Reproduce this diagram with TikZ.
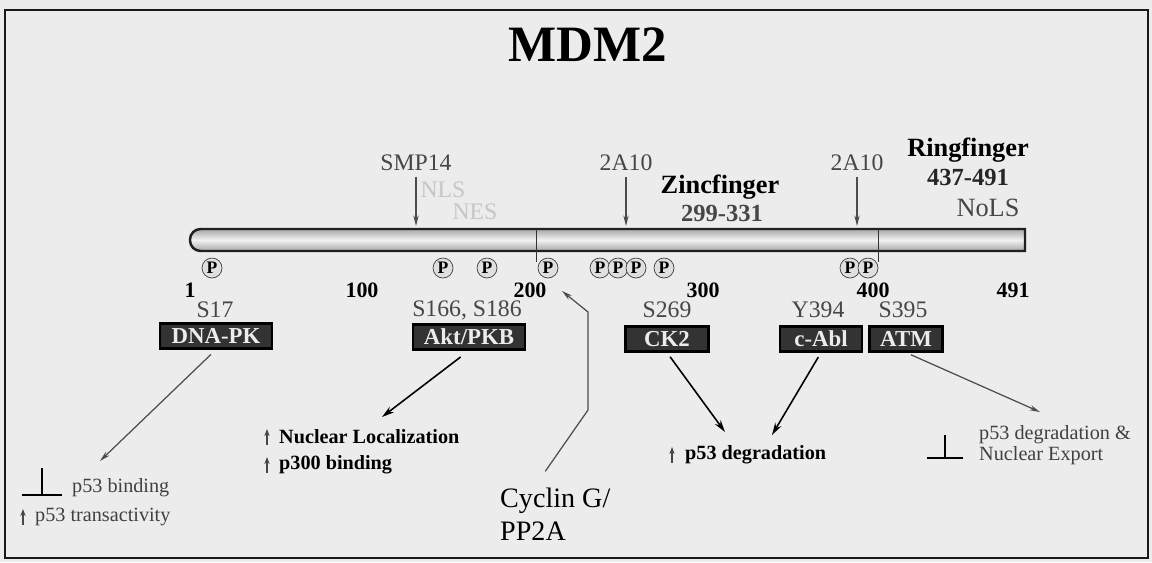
\documentclass[tikz,border=0pt]{standalone}
\usepackage{fontspec}
\setmainfont{Liberation Serif}
\usetikzlibrary{arrows.meta,positioning}

\tikzset{
  faded/.style={text=gray!55!black, font=\fontsize{13.5}{14}\selectfont},
  domlabel/.style={font=\bfseries\fontsize{15}{16}\selectfont},
  ticklabel/.style={font=\bfseries\fontsize{12.5}{13}\selectfont},
  kinase/.style={draw=black, line width=1.2pt, fill=gray!40!black, text=gray!15,
    font=\bfseries\fontsize{13}{14}\selectfont, inner sep=1pt, minimum height=0.5cm},
  phos/.style={circle, draw=gray!50!black, fill=gray!25, inner sep=0pt,
    minimum size=0.4cm, font=\bfseries\fontsize{10}{10}\selectfont},
  effect/.style={anchor=west, font=\fontsize{11.5}{12}\selectfont},
  blackarrow/.style={-{Stealth[length=7pt,width=4pt]}, line width=0.9pt},
  greyarrow/.style={-{Stealth[length=6pt,width=3pt]}, line width=0.7pt, gray!60!black},
  uparrow/.style={-{Stealth[length=4pt,width=3pt]}, line width=1pt, gray!55!black},
  blockbar/.style={line width=1.6pt}
}

\begin{document}
\begin{tikzpicture}[x=0.02cm,y=-0.02cm]
        % page and frame, 1152 x 562 px
        \fill[gray!15] (0,0) rectangle (1152,562);
        \useasboundingbox (0,0) rectangle (1152,562);
        \draw[line width=1.3pt, gray!20!black] (5,10) rectangle (1148,558);

        \node[font=\bfseries\fontsize{29}{31}\selectfont] (title) at (588,45) {MDM2};

        % the protein bar, residue 1 at x=190, 491 at x=1025
        \shade[top color=gray!70, bottom color=gray!70, middle color=gray!10]
          (1025,229) [rounded corners=6pt] -- (190,229) -- (190,251) [sharp corners] -- (1025,251) -- cycle;
        \draw[line width=1.4pt, gray!25!black]
          (1025,229) [rounded corners=6pt] -- (190,229) -- (190,251) [sharp corners] -- (1025,251) -- cycle;
        \draw[gray!40!black] (536,229) -- (536,262);
        \draw[gray!40!black] (878,229) -- (878,262);

        % residue numbers
        \node[ticklabel] (t1)   at (190,290) {1};
        \node[ticklabel] (t100) at (362,290) {100};
        \node[ticklabel] (t200) at (530,290) {200};
        \node[ticklabel] (t300) at (703,290) {300};
        \node[ticklabel] (t400) at (873,290) {400};
        \node[ticklabel] (t491) at (1013,290) {491};

        % phosphorylation sites
        \foreach \px [count=\i] in {212,443,487,548,600,618,636,664,850,868}
          \node[phos] (p\i) at (\px,268) {P};

        % antibodies and domains above the bar
        \node[faded] (smp) at (416,163) {SMP14};
        \node[faded, text=gray!45] (nls) at (443,190) {NLS};
        \node[faded, text=gray!45] (nes) at (475,212) {NES};
        \node[faded] (abA) at (626,163) {2A10};
        \node[faded] (abB) at (857,163) {2A10};
        \coordinate (smpx) at (416,226);
        \coordinate (abAx) at (626,226);
        \coordinate (abBx) at (857,226);
        \draw[greyarrow] (smp) -- (smpx);
        \draw[greyarrow] (abA) -- (abAx);
        \draw[greyarrow] (abB) -- (abBx);

        \node[domlabel] (zinc) at (720,187) {Zincfinger};
        \node[faded, font=\bfseries\fontsize{14}{15}\selectfont] (zincres) at (722,213) {299-331};
        \node[domlabel] (ring) at (968,150) {Ringfinger};
        \node[faded, text=gray!30!black, font=\bfseries\fontsize{14}{15}\selectfont] (ringres) at (968,177) {437-491};
        \node[faded, font=\fontsize{15}{16}\selectfont] (nols) at (988,208) {NoLS};

        % kinases and their sites
        \node[faded] (s17)  at (215,310) {S17};
        \node[faded] (s166) at (467,310) {S166, S186};
        \node[faded] (s269) at (667,310) {S269};
        \node[faded] (y394) at (818,310) {Y394};
        \node[faded] (s395) at (903,310) {S395};
        \node[kinase, minimum width=2.24cm] (dnapk) at (216,336) {DNA-PK};
        \node[kinase, minimum width=2.24cm] (akt)   at (469,337) {Akt/PKB};
        \node[kinase, minimum width=1.66cm] (ck2)   at (667,339) {CK2};
        \node[kinase, minimum width=1.64cm] (cabl)  at (821,339) {c-Abl};
        \node[kinase, minimum width=1.46cm] (atm)   at (906,339) {ATM};

        % effects
        \node[effect, text=gray!50!black] (pbind) at (66,488) {p53 binding};
        \node[effect, text=gray!50!black] (ptrans) at (29,517) {p53 transactivity};
        \node[effect, font=\bfseries\fontsize{11.5}{12}\selectfont] (nucloc) at (273,437) {Nuclear Localization};
        \node[effect, font=\bfseries\fontsize{11.5}{12}\selectfont] (p300) at (273,465) {p300 binding};
        \node[effect, font=\bfseries\fontsize{11.5}{12}\selectfont] (pdeg) at (679,455) {p53 degradation};
        \node[effect, text=gray!50!black, align=left] (pexp) at (973,445) {p53 degradation \&\\Nuclear Export};
        \node[effect, align=left, font=\fontsize{16}{19}\selectfont] (cyc) at (494,514) {Cyclin G/\\PP2A};

        % arrows from the kinases
        \coordinate (dnaend) at (100,461);
        \coordinate (aktend) at (382,417);
        \coordinate (ck2end) at (725,432);
        \coordinate (ablend) at (772,435);
        \coordinate (atmend) at (1040,412);
        \draw[greyarrow, shorten <=4pt] (dnapk.south) -- (dnaend);
        \draw[blackarrow, shorten <=6pt] (akt.south) -- (aktend);
        \draw[blackarrow, shorten <=3pt] (ck2.south) -- (ck2end);
        \draw[blackarrow, shorten <=3pt] (cabl.south) -- (ablend);
        \draw[greyarrow, shorten <=3pt] (atm.south) -- (atmend);

        % Cyclin G/PP2A back to the bar
        \coordinate (cyctip) at (562,291);
        \draw[greyarrow] (cyc.north) ++(-10,-10) -- (588,410) -- (588,312) -- (cyctip);

        % up arrows
        \foreach \ux/\uy in {267/437, 267/465, 23/517, 672/455}
          \draw[uparrow] (\ux,\uy+8) -- (\ux,\uy-8);

        % inhibition bars
        \draw[blockbar] (22,495) -- (62,495);
        \draw[blockbar] (42,468) -- (42,495);
        \draw[blockbar] (927,458) -- (963,458);
        \draw[blockbar] (945,435) -- (945,458);
    \end{tikzpicture}
\end{document}
